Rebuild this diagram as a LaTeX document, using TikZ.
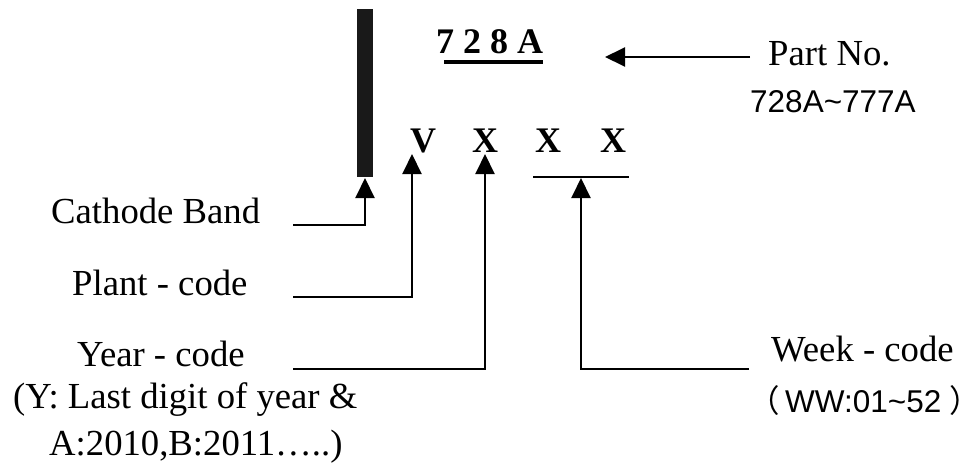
\documentclass[tikz,border=0pt]{standalone}
\usepackage{fontspec}
\setmainfont{Liberation Serif}
\newfontfamily\sansf{Liberation Sans}
\newfontfamily\cjk{Noto Sans CJK SC}
\usetikzlibrary{arrows.meta}
\begin{document}
\begin{tikzpicture}[x=1pt,y=-1pt,
  lbl/.style={inner sep=0,anchor=base west,font=\fontsize{36.7}{40}\selectfont},
  sanslbl/.style={inner sep=0,anchor=base west,font=\sansf\fontsize{31.5}{36}\selectfont},
  cjklbl/.style={inner sep=0,anchor=base west,font=\cjk\fontsize{31.5}{36}\selectfont},
  code/.style={inner sep=0,anchor=base west,font=\bfseries\fontsize{36}{40}\selectfont},
  conn/.style={line width=2pt,-{Triangle[length=20pt,width=19pt]}},
  plain/.style={line width=2pt}]
\useasboundingbox (0,0) rectangle (968,466);
% cathode band
\node[fill=black!90,inner sep=0,minimum width=16pt,minimum height=168pt,anchor=north west] (band) at (357,9) {};
% part number
\node[code] (pn) at (436,53) {7 2 8 A};
\draw[line width=4pt] (444,62) -- (543,62);
\node[lbl] (partno) at (768,65) {Part No.};
\node[sanslbl] (range) at (750,112) {728A\textasciitilde777A};
\coordinate (pnstart) at (750,57);
\coordinate (pntip) at (605,57);
\draw[conn] (pnstart) -- (pntip);
% code letters
\node[code] (v) at (410,152) {V};
\node[code] (x1) at (472,152) {X};
\node[code] (x2) at (535,152) {X};
\node[code] (x3) at (600,152) {X};
\coordinate (wl) at (533,177);
\coordinate (wr) at (629,177);
\draw[plain] (wl) -- (wr);
% labels
\node[lbl] (cath) at (51,223) {Cathode Band};
\node[lbl] (plant) at (72,295) {Plant - code};
\node[lbl] (year) at (77,366) {Year - code};
\node[lbl] (yeardesc) at (13,408) {(Y: Last digit of year \&};
\node[lbl] (yeardesc2) at (49,455) {A:2010,B:2011…..)};
\node[lbl] (week) at (771,361) {Week - code};
\node[cjklbl] (lpar) at (748,412) {（};
\node[sanslbl] (weekdesc) at (785,412) {WW:01\textasciitilde52};
\node[cjklbl,anchor=base west] (rpar) at (949,412) {\makebox[15pt][l]{）}};
% connectors
\coordinate (c0) at (293,225);
\coordinate (c1) at (365,225);
\coordinate (ct) at (365,178);
\draw[conn] (c0) -- (c1) -- (ct);
\coordinate (p0) at (293,297);
\coordinate (p1) at (412,297);
\coordinate (pt) at (412,154);
\draw[conn] (p0) -- (p1) -- (pt);
\coordinate (y0) at (293,369);
\coordinate (y1) at (485,369);
\coordinate (yt) at (485,154);
\draw[conn] (y0) -- (y1) -- (yt);
\coordinate (w0) at (749,369);
\coordinate (w1) at (581,369);
\coordinate (wt) at (581,178);
\draw[conn] (w0) -- (w1) -- (wt);
\end{tikzpicture}
\end{document}
